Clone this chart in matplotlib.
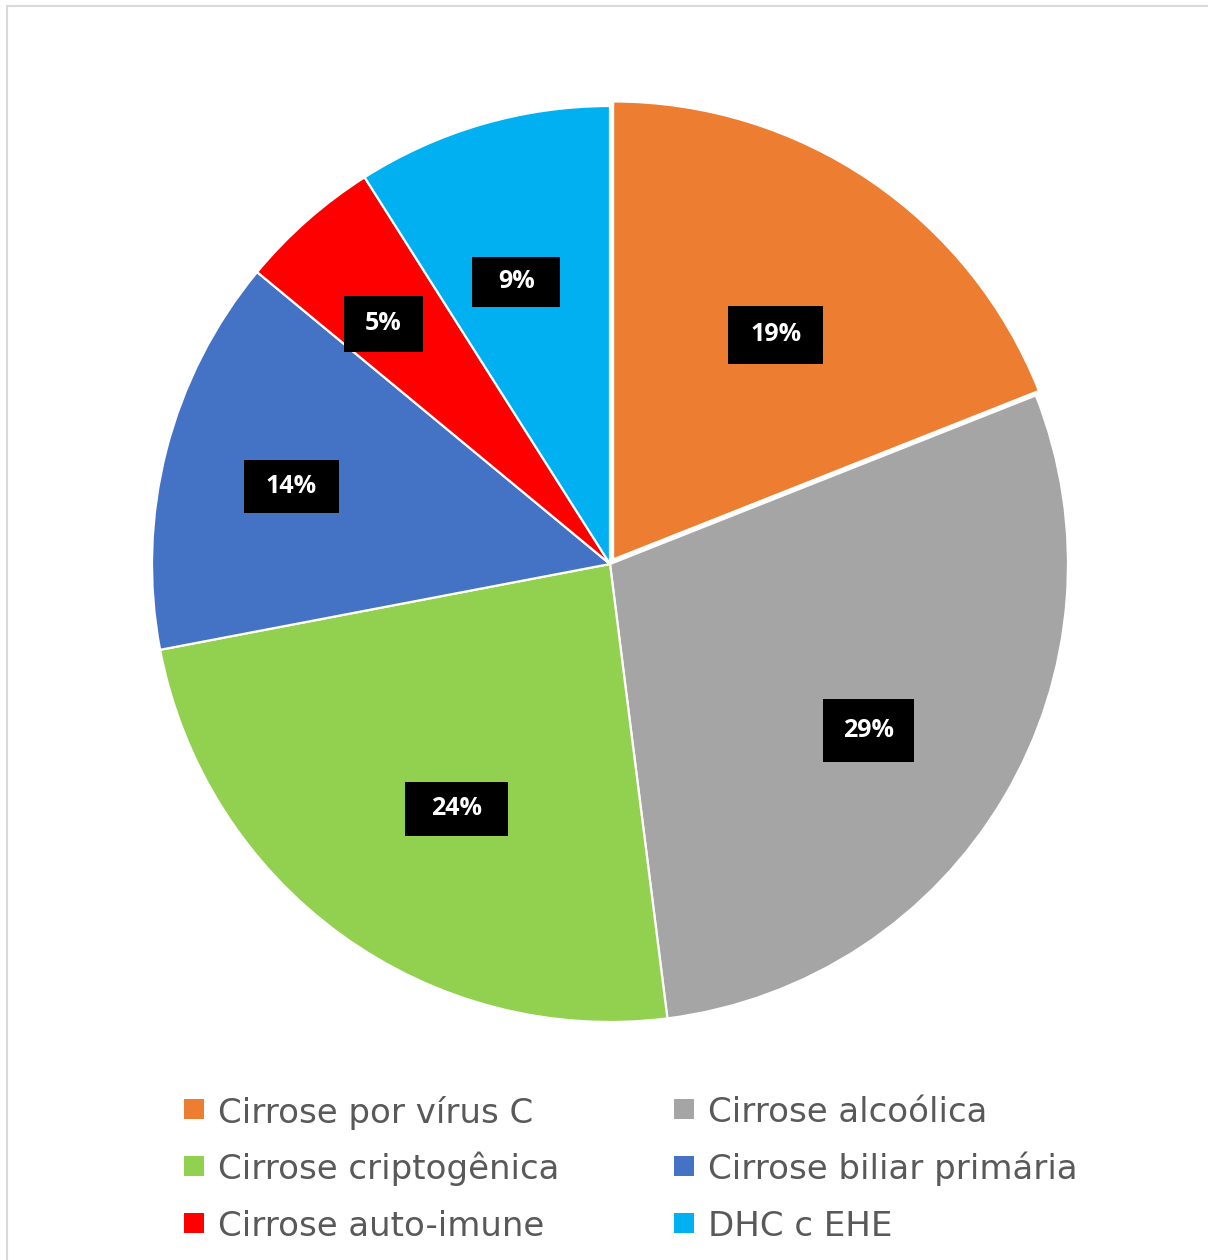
import numpy as np
import matplotlib
matplotlib.use("Agg")
import matplotlib.pyplot as plt
from matplotlib.patches import Rectangle

categories = ["Cirrose por vírus C", "Cirrose alcoólica", "Cirrose criptogênica",
              "Cirrose biliar primária", "Cirrose auto-imune", "DHC c EHE"]
shares = [19, 29, 24, 14, 5, 9]
colors = ["#ED7D31", "#A5A5A5", "#92D050", "#4472C4", "#FF0000", "#00B0F0"]
explode = [0.012, 0, 0, 0, 0, 0]

# data-label placement: radius (fraction of R), angle nudge (deg), box size (px)
label_r = [0.605, 0.671, 0.631, 0.716, 0.721, 0.649]
label_dth = [-1.7, -2.2, 3.9, 0.7, 1.9, 2.2]
box_px = [(95, 58), (91, 63), (103, 54), (95, 53), (79, 56), (88, 50)]

W, H = 1208, 1260
fig = plt.figure(figsize=(W / 100, H / 100), dpi=100)
fig.patches.append(Rectangle((7 / W, -0.1), 1.2, 1 - 6 / H + 0.1, transform=fig.transFigure,
                             facecolor="none", edgecolor="#D9D9D9", linewidth=1.5))

R = 458
cx, cy = 610, H - 564
half = 1.1 * R
ax = fig.add_axes([(cx - half) / W, (cy - half) / H, 2 * half / W, 2 * half / H])

wedges, _ = ax.pie(shares, colors=colors, startangle=90, counterclock=False, explode=explode,
                   radius=1.0, wedgeprops=dict(edgecolor="white", linewidth=1.6))
ax.set_xlim(-1.1, 1.1); ax.set_ylim(-1.1, 1.1); ax.set_aspect("equal"); ax.axis("off")

for w, v, r, dth, (bw, bh) in zip(wedges, shares, label_r, label_dth, box_px):
    mid = np.deg2rad((w.theta1 + w.theta2) / 2 + dth)
    x0, y0 = w.center
    lx, ly = x0 + r * np.cos(mid), y0 + r * np.sin(mid)
    bw, bh = bw / R, bh / R
    ax.add_patch(Rectangle((lx - bw / 2, ly - bh / 2), bw, bh, facecolor="black",
                           edgecolor="none", zorder=3))
    ax.text(lx, ly, f"{v}%", ha="center", va="center", color="white", fontsize=18,
            fontweight="bold", family="Open Sans", zorder=4)

# legend: two columns, three rows, filled squares
order = [0, 2, 4, 1, 3, 5]
col_x = [184, 674]
row_y = [1109, 1166, 1223]
sq = 20
for k, i in enumerate(order):
    x, y = col_x[k // 3], row_y[k % 3]
    fig.patches.append(Rectangle((x / W, 1 - (y + sq / 2) / H), sq / W, sq / H,
                                 transform=fig.transFigure, facecolor=colors[i], edgecolor="none"))
    fig.text((x + sq + 14) / W, 1 - (y + 13.5) / H, categories[i], ha="left", va="baseline",
             fontsize=24.5, color="#595959", family="DejaVu Sans")

fig.savefig("out.png", dpi=100)
